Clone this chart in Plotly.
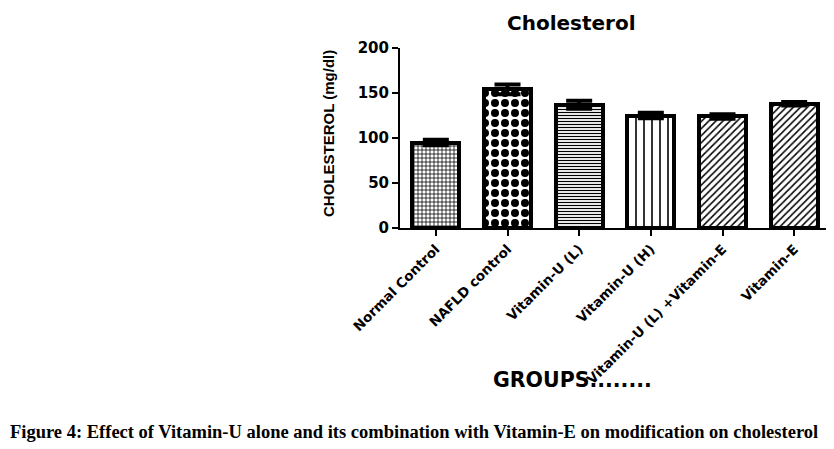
import plotly.graph_objects as go

groups = ["Normal Control", "NAFLD control", "Vitamin-U (L)", "Vitamin-U (H)",
          "Vitamin-U (L) +Vitamin-E", "Vitamin-E"]
cholesterol = [95, 154, 137, 125, 124, 138]
sem = [3, 5.5, 4.5, 3, 2.5, 2]
y_ticks = [0, 50, 100, 150, 200]

patterns = [
    dict(shape="+", size=4, solidity=0.35),
    dict(shape=".", size=10, solidity=0.5),
    dict(shape="-", size=3, solidity=0.4),
    dict(shape="|", size=8, solidity=0.2),
    dict(shape="/", size=5, solidity=0.3),
    dict(shape="/", size=5, solidity=0.3),
]

OFF = 8  # browser body margin
W, H = 834 - OFF, 449 - OFF
# plot area in page pixels
L, R, T, B = 400, 830, 48, 228
pw, ph = R - L, B - T

def px(x):
    return (x - L) / pw

def py(y):
    return (B - y) / ph

fig = go.Figure()
for i, g in enumerate(groups):
    p = patterns[i]
    fig.add_trace(go.Bar(
        x=[i], y=[cholesterol[i]], width=0.66,
        marker=dict(color="white",
                    line=dict(color="black", width=4),
                    pattern=dict(shape=p["shape"], size=p["size"], solidity=p["solidity"],
                                 fgcolor="black", bgcolor="white", fillmode="replace")),
        error_y=dict(type="data", array=[sem[i]], color="black", thickness=4, width=13),
        showlegend=False,
    ))

fig.update_layout(
    width=W, height=H,
    margin=dict(l=L - OFF, r=W - (R - OFF), t=T - OFF, b=H - (B - OFF), autoexpand=False),
    paper_bgcolor="white", plot_bgcolor="white",
    bargap=0,
    xaxis=dict(range=[-0.5, 5.5], tickmode="array", tickvals=list(range(len(groups))),
               ticktext=groups, tickangle=-45, showgrid=False, zeroline=False,
               showline=True, linecolor="black", linewidth=2,
               ticks="outside", ticklen=6, tickwidth=2, tickcolor="black",
               tickfont=dict(family="DejaVu Sans", size=13.5, color="black", weight="bold")),
    yaxis=dict(range=[0, 200], tickvals=y_ticks, showgrid=False, zeroline=False,
               showline=True, linecolor="black", linewidth=2,
               ticks="outside", ticklen=6, tickwidth=2, tickcolor="black",
               tickfont=dict(family="DejaVu Sans", size=15, color="black", weight="bold")),
)

fig.add_annotation(text="<b>Cholesterol</b>", xref="paper", yref="paper",
                   x=px(571), y=py(9), showarrow=False, xanchor="center", yanchor="top",
                   font=dict(family="DejaVu Sans", size=20, color="black"))
fig.add_annotation(text="<b>CHOLESTEROL (mg/dl)</b>", xref="paper", yref="paper",
                   x=px(328), y=py(134), showarrow=False, textangle=-90,
                   xanchor="center", yanchor="middle",
                   font=dict(family="Liberation Sans", size=15, color="black"))
fig.add_annotation(text="<b>GROUPS........</b>", xref="paper", yref="paper",
                   x=px(572), y=py(380), showarrow=False, xanchor="center", yanchor="middle",
                   font=dict(family="DejaVu Sans", size=20.5, color="black"))
fig.add_annotation(text="<b>Figure 4: Effect of Vitamin-U alone and its combination with Vitamin-E on modification on cholesterol</b>",
                   xref="paper", yref="paper",
                   x=px(OFF), y=py(432), showarrow=False, xanchor="left", yanchor="middle",
                   font=dict(family="Liberation Serif", size=18.5, color="black"))

fig.write_html("out.html")
